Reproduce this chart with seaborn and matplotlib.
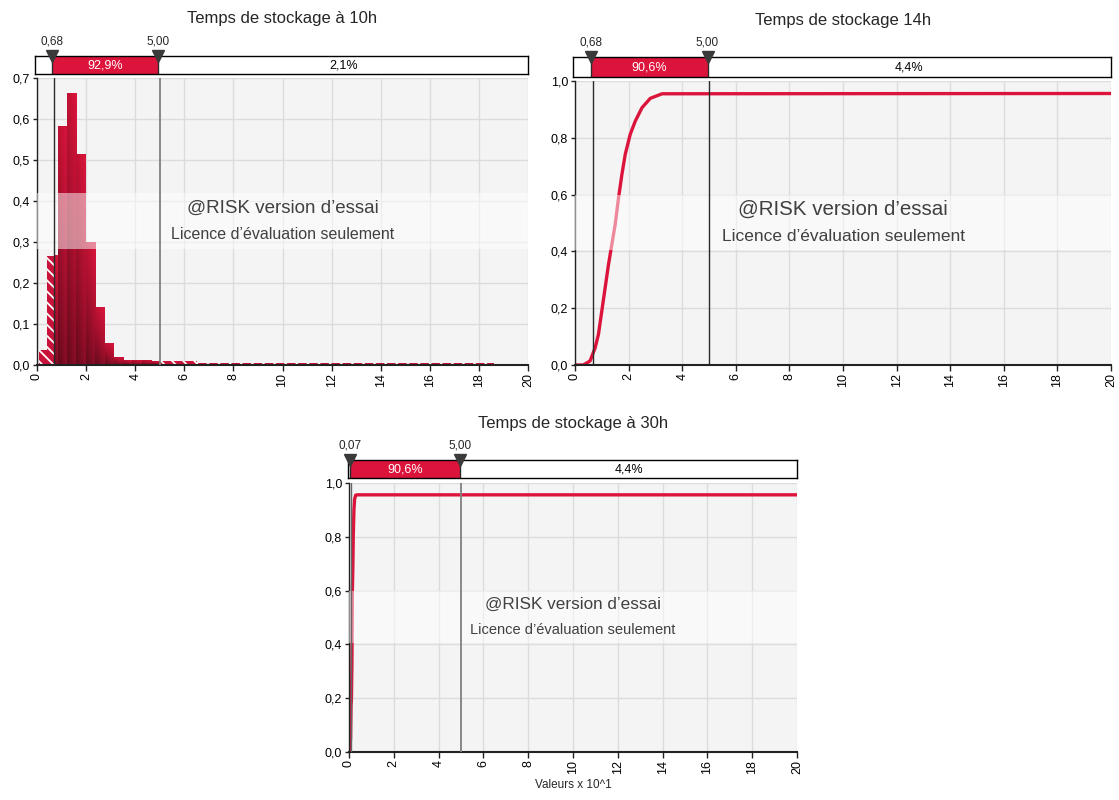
import numpy as np
import seaborn as sns
import matplotlib.pyplot as plt
from matplotlib.patches import Rectangle
from matplotlib.colors import LinearSegmentedColormap
from matplotlib.ticker import FuncFormatter


# Histogramme 10h (bornes et hauteurs)
hist_edges = [0.08, 0.42, 0.68, 0.84, 1.22, 1.60, 2.00, 2.38, 2.76, 3.12, 3.50,
              3.88, 4.26, 4.64, 5.00, 6.50, 10.0, 18.6]
hist_heights = [0.036, 0.266, 0.266, 0.582, 0.661, 0.514, 0.298, 0.140, 0.052,
                0.018, 0.012, 0.010, 0.011, 0.009, 0.0095, 0.006, 0.004]

# Courbes cumulatives 14h et 30h
cdf14_x = [0, 0.31, 0.56, 0.75, 0.875, 1.0, 1.125, 1.25, 1.375, 1.5, 1.625,
           1.75, 1.875, 2.06, 2.25, 2.5, 2.81, 3.25, 20]
cdf14_y = [0, 0, 0.014, 0.06, 0.108, 0.19, 0.272, 0.354, 0.425, 0.495, 0.589,
           0.671, 0.742, 0.812, 0.859, 0.906, 0.939, 0.955, 0.956]
cdf30_x = [0, 0.02, 0.05, 0.07, 0.09, 0.11, 0.13, 0.15, 0.17, 0.19, 0.22,
           0.25, 0.3, 0.4, 20]
cdf30_y = [0, 0.01, 0.03, 0.05, 0.17, 0.2, 0.33, 0.6, 0.68, 0.8, 0.9,
           0.94, 0.955, 0.956, 0.956]

titles = ['Temps de stockage à 10h', 'Temps de stockage 14h', 'Temps de stockage à 30h']
low_delims = [0.68, 0.68, 0.07]
high_delims = [5.00, 5.00, 5.00]
mid_pcts = ['92,9%', '90,6%', '90,6%']
right_pcts = ['2,1%', '4,4%', '4,4%']

RED = '#DC143C'
BG = '#F4F4F4'

sns.set_style('white')
plt.rcParams['font.family'] = ['Liberation Sans', 'DejaVu Sans']
plt.rcParams['hatch.color'] = 'white'
plt.rcParams['hatch.linewidth'] = 1.3

W, H = 1119, 800
fig = plt.figure(figsize=(W / 100, H / 100), dpi=100)


def px_axes(left, top, right, bottom):
    return fig.add_axes([left / W, 1 - bottom / H, (right - left) / W, (bottom - top) / H])


# (axes plot, barre de délimiteurs)
boxes = [((37, 78, 528, 365), (35, 56, 528, 74)),
         ((575, 81, 1111, 365), (573, 57, 1111, 77)),
         ((349, 483, 797, 752), (348, 460, 797, 478))]

comma = FuncFormatter(lambda v, p: f'{v:.1f}'.replace('.', ','))
grad_cmap = LinearSegmentedColormap.from_list('g', ['#640A1C', '#A8102E', RED])

for i, (pbox, bbox) in enumerate(boxes):
    ax = px_axes(*pbox)
    ax.set_facecolor(BG)
    ax.set_axisbelow(True)
    ax.grid(True, color='#DCDCDC', lw=1)

    if i == 0:
        centers = [(a + b) / 2 for a, b in zip(hist_edges[:-1], hist_edges[1:])]
        sns.histplot(x=centers, weights=hist_heights, bins=hist_edges, ax=ax,
                     stat='count', color=RED, alpha=1, linewidth=0)
        yy, xx = np.mgrid[0:1:64j, 0:1:16j]
        t = 0.7 * yy + 0.3 * xx
        for p in list(ax.patches):
            x0, w, h = p.get_x(), p.get_width(), p.get_height()
            xc = x0 + w / 2
            if xc < low_delims[i] or xc > high_delims[i]:
                p.set_facecolor('#C8123A')
                p.set_edgecolor('white')
                p.set_hatch('\\' * 3)
            else:
                ax.imshow(t, extent=(x0, x0 + w, 0, h), origin='lower', cmap=grad_cmap,
                          vmin=0, vmax=1, aspect='auto', zorder=2, interpolation='bilinear')
        ax.set_ylim(0, 0.7)
        ax.set_yticks(np.arange(0, 0.71, 0.1))
    else:
        cx, cy = (cdf14_x, cdf14_y) if i == 1 else (cdf30_x, cdf30_y)
        sns.lineplot(x=cx, y=cy, ax=ax, color=RED, linewidth=2.4, zorder=2)
        ax.set_ylim(0, 1.0)
        ax.set_yticks(np.arange(0, 1.01, 0.2))

    ax.set_xlim(0, 20)
    ax.set_xticks(range(0, 21, 2))
    ax.yaxis.set_major_formatter(comma)
    ax.tick_params(axis='x', rotation=90, labelsize=9, length=4, width=1,
                   color='#222', bottom=True, pad=2, labelcolor='black')
    ax.tick_params(axis='y', labelsize=9, length=3, width=1, color='#222', left=True,
                   pad=2, labelcolor='black')
    for s in ['top', 'right']:
        ax.spines[s].set_visible(False)
    ax.spines['left'].set_color('#222')
    ax.spines['left'].set_linewidth(1)
    ax.spines['bottom'].set_color('#222')
    ax.spines['bottom'].set_linewidth(1.5)
    ax.set_xlabel('')
    ax.set_ylabel('')

    # lignes des délimiteurs
    lo_col = '#2A2A2A' if i < 2 else '#666666'
    hi_col = '#2A2A2A' if i == 1 else '#808080'
    ax.axvline(low_delims[i], color=lo_col, lw=1, zorder=4)
    ax.axvline(high_delims[i], color=hi_col, lw=1.3 if i != 1 else 1, zorder=4)

    # bandeau filigrane
    ax.add_patch(Rectangle((0, 0.405), 1, 0.195, transform=ax.transAxes,
                           facecolor='white', alpha=0.5, lw=0, zorder=3))
    scale = (pbox[2] - pbox[0]) / 491
    ax.text(0.5, 0.547, '@RISK version d’essai', transform=ax.transAxes, ha='center',
            va='center', fontsize=13.5 * scale, color='#404040', zorder=5)
    ax.text(0.5, 0.453, 'Licence d’évaluation seulement', transform=ax.transAxes,
            ha='center', va='center', fontsize=11.5 * scale, color='#404040', zorder=5)

    # barre de délimiteurs
    bx = px_axes(*bbox)
    bx.set_xlim(0, 20)
    bx.set_ylim(0, 1)
    bx.axvspan(low_delims[i], high_delims[i], color=RED, lw=0)
    bx.set_xticks([])
    bx.set_yticks([])
    for s in bx.spines.values():
        s.set_color('black')
        s.set_linewidth(1)
        s.set_visible(True)
    for d in (low_delims[i], high_delims[i]):
        bx.axvline(d, color='#2A2A2A', lw=1)
        bx.plot([d], [1.0], marker='v', ms=8, color='#3A3A3A', clip_on=False, zorder=6)
        bx.annotate(f'{d:.2f}'.replace('.', ','), (d, 1.0), xytext=(0, 6),
                    textcoords='offset points', ha='center', va='bottom', fontsize=8.5,
                    annotation_clip=False)
    bx.text((low_delims[i] + high_delims[i]) / 2, 0.45, mid_pcts[i], ha='center',
            va='center', color='white', fontsize=9)
    bx.text((high_delims[i] + 20) / 2, 0.45, right_pcts[i], ha='center',
            va='center', color='black', fontsize=9)

    # titre
    fig.text(((pbox[0] + pbox[2]) / 2) / W, 1 - (bbox[1] - 37) / H, titles[i],
             ha='center', va='center', fontsize=12)

    if i == 2:
        ax.set_xlabel('Valeurs x 10^1', fontsize=8.5, labelpad=3)

out = 'out.png'
plt.savefig(out, dpi=100)
print(f"Saved {out}")
plt.close()
